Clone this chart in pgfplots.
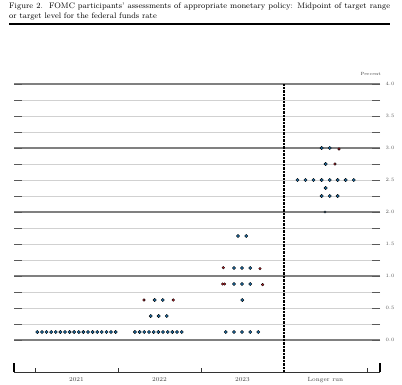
\documentclass[border=0pt]{standalone}
\usepackage{pgfplots}
\pgfplotsset{compat=1.18}
\definecolor{fedblue}{RGB}{28,108,165}
\definecolor{fedred}{RGB}{210,35,45}
\begin{document}
\begin{tikzpicture}
\path[use as bounding box] (0,0) rectangle (402pt,-384pt);
\node[anchor=north west, inner sep=0pt, text width=381pt, align=justify, font=\fontsize{8}{10}\selectfont] at (9pt,-3pt)
 {Figure 2.\ \ FOMC participants' assessments of appropriate monetary policy: Midpoint of target range\linebreak or target level for the federal funds rate};
\draw[line width=1.3pt] (9pt,-24pt) -- (390pt,-24pt);
\begin{axis}[
 at={(14pt,-372pt)}, anchor=south west,
 scale only axis, width=366pt, height=288pt,
 xmin=0.247, xmax=4.657, ymin=-0.5, ymax=4,
 axis line style={draw=none},
 xtick=\empty,
 extra x ticks={1,2,3,4},
 extra x tick labels={2021,2022,2023,Longer run},
 extra x tick style={major tick length=0pt, xticklabel style={font=\fontsize{6}{7}\selectfont, text=black!75, yshift=-2pt}},
 ytick={0,0.5,1,1.5,2,2.5,3,3.5,4},
 minor ytick={0.25,0.75,1.25,1.75,2.25,2.75,3.25,3.75},
 ymajorgrids, yminorgrids,
 major grid style={black!18, line width=0.7pt},
 minor grid style={black!18, line width=0.7pt},
 major tick length=8pt, minor tick length=8pt,
 tick style={black!65, line width=0.8pt},
 yticklabel pos=right,
 yticklabel style={font=\fontsize{5.5}{6}\selectfont, text=black!65, xshift=2pt},
 /pgf/number format/.cd, fixed, fixed zerofill, precision=1,
 /pgfplots/.cd,
 extra y ticks={0,1,2,3,4},
 extra y tick labels={},
 extra y tick style={ymajorgrids=true, major grid style={black!50, line width=1.1pt}},
 clip=false,
]
% blue dots
\addplot[only marks, mark=*, mark size=1.65pt, mark options={draw=none, fill=fedblue}] coordinates {
 (0.528,0.125) (0.584,0.125) (0.639,0.125) (0.695,0.125) (0.750,0.125) (0.806,0.125)
 (0.861,0.125) (0.917,0.125) (0.972,0.125) (1.028,0.125) (1.083,0.125) (1.139,0.125)
 (1.194,0.125) (1.250,0.125) (1.305,0.125) (1.361,0.125) (1.416,0.125) (1.472,0.125)
 (1.704,0.125) (1.761,0.125) (1.817,0.125) (1.873,0.125) (1.930,0.125) (1.986,0.125)
 (2.042,0.125) (2.099,0.125) (2.155,0.125) (2.211,0.125) (2.268,0.125)
 (1.894,0.375) (1.990,0.375) (2.087,0.375)
 (1.942,0.625) (2.039,0.625)
 (2.798,0.125) (2.898,0.125) (2.994,0.125) (3.094,0.125) (3.190,0.125)
 (2.998,0.625)
 (2.898,0.875) (2.994,0.875) (3.094,0.875)
 (2.898,1.125) (2.994,1.125) (3.094,1.125)
 (2.946,1.625) (3.046,1.625)
 (3.954,3.0) (4.051,3.0)
 (4.002,2.75)
 (3.663,2.5) (3.760,2.5) (3.856,2.5) (3.954,2.5) (4.051,2.5) (4.147,2.5) (4.243,2.5) (4.340,2.5)
 (4.002,2.375)
 (3.954,2.25) (4.051,2.25) (4.147,2.25)
};
\addplot[only marks, mark=*, mark size=1.1pt, mark options={draw=none, fill=fedblue!60}] coordinates {(3.994,2.0)};
% red dots
\addplot[only marks, mark=*, mark size=1.3pt, mark options={draw=none, fill=fedred}] coordinates {
 (1.813,0.625) (2.166,0.625)
 (2.761,0.875) (2.785,0.875) (3.243,0.865)
 (2.769,1.13) (3.211,1.115)
 (4.163,2.985) (4.114,2.75)
};
\draw[black, line width=1.2pt, dash pattern=on 0.8pt off 0.6pt] (axis cs:3.5,4) -- (axis cs:3.5,-0.5);
\draw[black!80, line width=0.8pt] (axis cs:0.247,-0.5) -- (axis cs:4.657,-0.5);
\draw[black, line width=1.1pt] (axis cs:0.247,-0.5) -- ++(0pt,9pt);
\draw[black, line width=1.1pt] (axis cs:4.657,-0.5) -- ++(0pt,9pt);
\draw[black!80, line width=0.6pt] (axis cs:0.5,-0.5) -- ++(0pt,4pt);
\draw[black!80, line width=0.6pt] (axis cs:1.5,-0.5) -- ++(0pt,4pt);
\draw[black!80, line width=0.6pt] (axis cs:2.5,-0.5) -- ++(0pt,4pt);
\draw[black!80, line width=0.6pt] (axis cs:4.5,-0.5) -- ++(0pt,4pt);
\node[font=\fontsize{4.5}{5}\selectfont, text=black!75] at (axis cs:4.545,4.156) {Percent};
\end{axis}
\end{tikzpicture}
\end{document}
